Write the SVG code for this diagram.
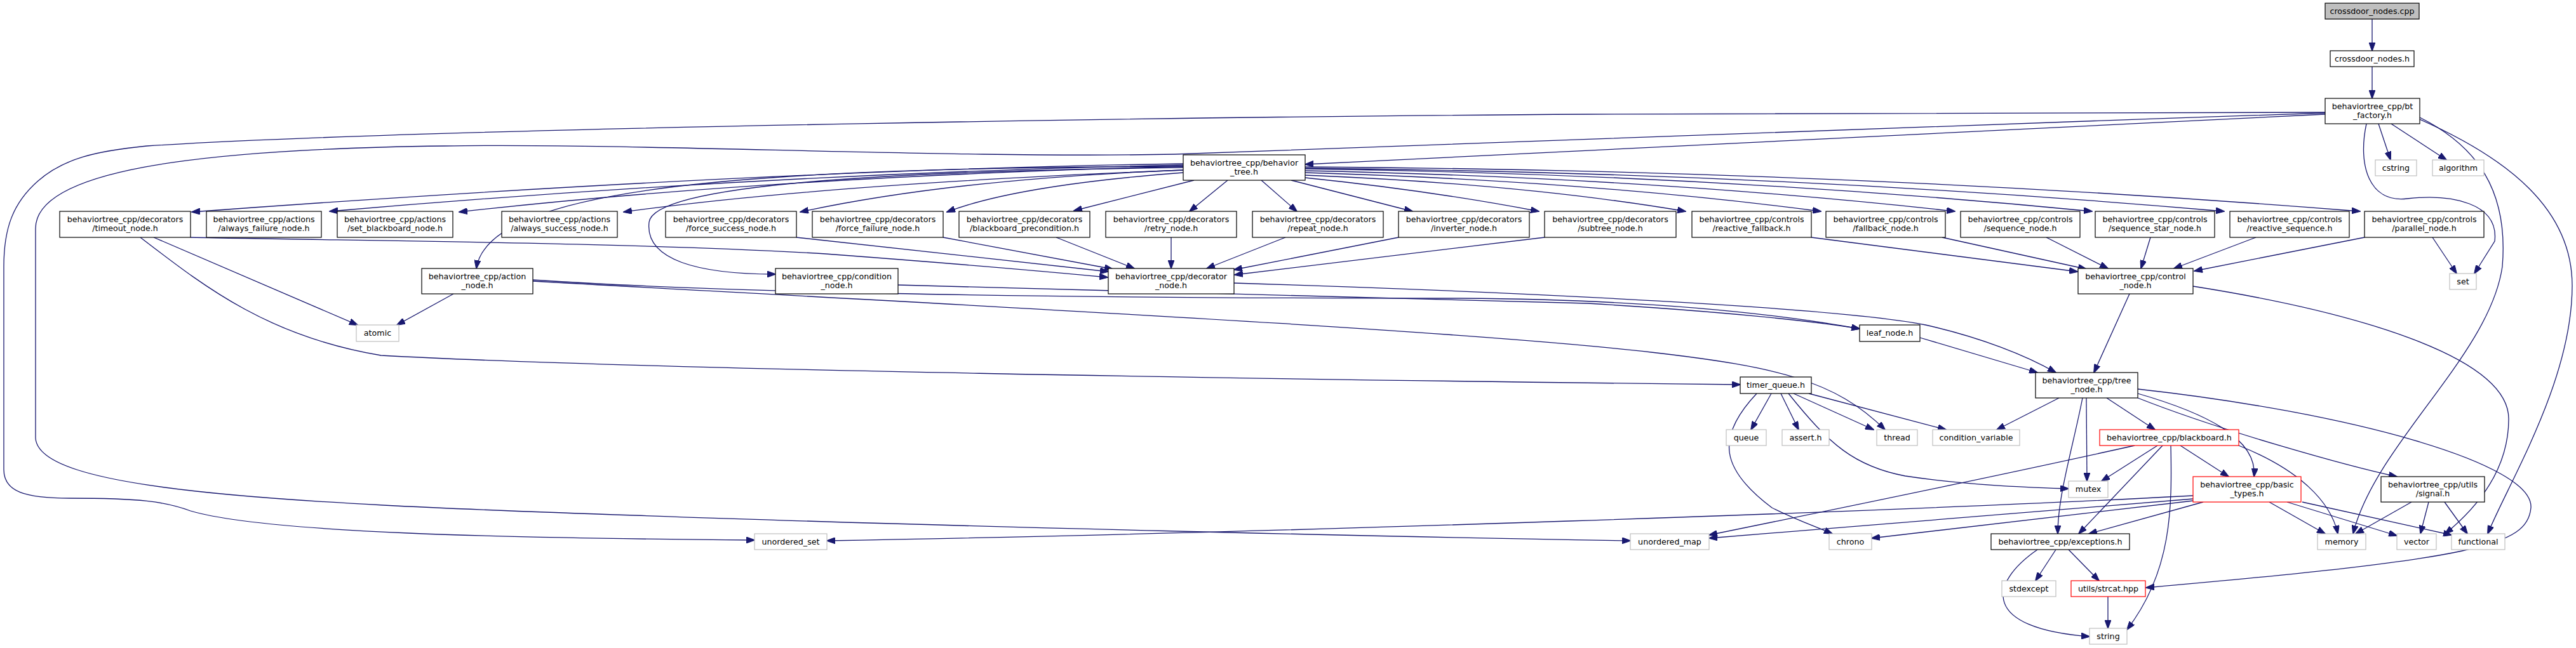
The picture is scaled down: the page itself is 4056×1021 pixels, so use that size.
<svg xmlns="http://www.w3.org/2000/svg" width="4056" height="1021" viewBox="0 0 4056 1021">
<style>
text{font-family:"DejaVu Sans",sans-serif;font-size:12.67px;text-anchor:middle;fill:#000}
.n rect{fill:#fff;stroke:#000;stroke-width:1.2}
.g rect{fill:#fff;stroke:#bfbfbf;stroke-width:1.2}
.r rect{fill:#fff;stroke:#ff0000;stroke-width:1.2}
.root rect{fill:#bfbfbf;stroke:#000;stroke-width:1.2}
.e path{fill:none;stroke:#191970;stroke-width:1.3;marker-end:url(#a)}
</style>
<defs>
<marker id="a" markerWidth="14" markerHeight="10" refX="13" refY="5" orient="auto" markerUnits="userSpaceOnUse"><path d="M0,0 L14,5 L0,10 z" fill="#191970" stroke="#191970" stroke-width="1"/></marker>
</defs>
<rect width="4056" height="1021" fill="#fff"/>
<g id="edges" class="e">
<path d="M3735,30 L3735,80"/>
<path d="M3735,105 L3735,155"/>
<path d="M3661,180 L2055,259"/>
<path d="M3661,178 C3000,200 2300,225 1850,243 C1500,250 1000,225 700,230 C300,235 56,270 56,360 L56,690 C60,770 400,792 1000,812 C1500,830 2200,846 2567,852"/>
<path d="M3661,177 L2500,180 C2000,183 700,200 231,230 C150,238 100,250 60,285 C20,320 6,360 6,420 L6,740 C6,775 40,785 110,785 C220,785 260,790 300,805 C420,840 800,848 1188,851"/>
<path d="M3745,195 L3764,252"/>
<path d="M3765,195 L3852,252"/>
<path d="M3726,195 C3712,260 3730,320 3790,313 C3860,305 3935,320 3928,380 L3896,431"/>
<path d="M3810,185 C3900,230 3950,300 3940,420 C3920,560 3740,700 3705,841"/>
<path d="M3810,188 C3950,250 4050,330 4050,450 C4050,600 3950,760 3917,841"/>
<path d="M3830,374 L3868,431"/>
<path d="M3453,451 C3700,490 3950,560 3950,660 C3950,740 3900,800 3850,841"/>
<path d="M3353,463 L3297,587"/>
<path d="M3023,532 L3208,587"/>
<path d="M1943,446 C2400,460 2900,485 3032,512 C3120,532 3190,560 3237,587"/>
<path d="M839,441 C1200,465 1800,470 2300,470 C2600,472 2800,495 2928,518"/>
<path d="M1414,449 C1900,460 2300,470 2500,478 C2700,490 2850,505 2928,518"/>
<path d="M839,443 C1500,480 2300,520 2600,555 C2800,578 2890,600 2968,677"/>
<path d="M714,463 L625,512"/>
<path d="M242,374 L563,512"/>
<path d="M221,374 C320,450 420,530 600,560 C1000,582 2000,598 2740,606"/>
<path d="M300,374 C600,380 1000,382 1300,400 C1500,415 1650,428 1744,437"/>
<path d="M1254,374 L1745,428"/>
<path d="M1485,374 L1752,424"/>
<path d="M1663,374 L1786,423"/>
<path d="M1844,374 L1844,423"/>
<path d="M2024,374 L1900,423"/>
<path d="M2202,374 L1943,425"/>
<path d="M2432,374 L1944,433"/>
<path d="M2852,374 L3271,428"/>
<path d="M3058,374 L3285,424"/>
<path d="M3222,374 L3319,423"/>
<path d="M3386,374 L3371,423"/>
<path d="M3552,374 L3423,423"/>
<path d="M3723,374 L3455,427"/>
<path d="M3242,627 L3144,677"/>
<path d="M3279,627 C3265,700 3240,780 3240,841"/>
<path d="M3285,627 L3286,758"/>
<path d="M3317,627 L3393,677"/>
<path d="M3366,620 C3470,650 3555,690 3549,751"/>
<path d="M3366,627 C3500,680 3700,735 3774,751"/>
<path d="M3366,613 C3700,650 3990,730 3985,800 C3980,860 3900,880 3379,926"/>
<path d="M2789,620 L2757,677"/>
<path d="M2804,620 L2832,677"/>
<path d="M2824,620 L2950,677"/>
<path d="M2848,620 L3064,677"/>
<path d="M2816,620 C2880,700 2920,735 3000,750 C3100,765 3200,768 3257,770"/>
<path d="M2766,620 C2700,690 2710,740 2790,800 C2830,820 2860,830 2885,841"/>
<path d="M3361,702 C3100,760 2900,800 2691,843"/>
<path d="M3397,702 L3309,758"/>
<path d="M3405,702 L3273,841"/>
<path d="M3418,702 C3420,800 3420,900 3349,992"/>
<path d="M3433,702 L3509,751"/>
<path d="M3525,702 C3620,740 3670,790 3681,841"/>
<path d="M3453,781 C3000,805 2000,840 1302,852"/>
<path d="M3453,786 C3100,815 2850,835 2691,848"/>
<path d="M3453,789 L2947,848"/>
<path d="M3469,791 L3289,841"/>
<path d="M3573,791 L3661,841"/>
<path d="M3601,791 L3774,844"/>
<path d="M3625,791 L3860,843"/>
<path d="M3797,791 L3709,841"/>
<path d="M3824,791 L3811,841"/>
<path d="M3849,791 L3885,841"/>
<path d="M3208,866 C3130,920 3120,990 3290,1003"/>
<path d="M3237,866 L3205,915"/>
<path d="M3257,866 L3305,915"/>
<path d="M3319,940 L3319,990"/>
<path d="M1863,258 Q1200,268 302,334"/>
<path d="M1863,260 Q1200,274 519,333"/>
<path d="M1863,262 Q1200,280 723,334"/>
<path d="M1863,268 Q1300,290 982,334"/>
<path d="M1863,262 C1200,265 770,290 750,423"/>
<path d="M1863,264 C1400,270 1030,290 1022,350 C1015,410 1100,432 1221,432"/>
<path d="M1863,268 Q1500,282 1260,334"/>
<path d="M1863,272 Q1600,292 1491,334"/>
<path d="M1880,284 L1691,332"/>
<path d="M1933,284 L1873,333"/>
<path d="M1986,284 L2042,333"/>
<path d="M2033,284 L2224,333"/>
<path d="M2055,280 Q2250,300 2423,333"/>
<path d="M2055,276 Q2400,290 2654,333"/>
<path d="M2055,272 Q2500,285 2867,333"/>
<path d="M2055,269 Q2600,280 3078,333"/>
<path d="M2055,266 Q2700,275 3294,333"/>
<path d="M2055,265 Q2800,272 3502,333"/>
<path d="M2055,263 Q2900,268 3716,333"/>
</g>
<g id="n_cpp" class="root"><rect x="3661" y="5" width="148" height="25"/><text x="3735" y="22">crossdoor_nodes.cpp</text></g>
<g id="n_h" class="n"><rect x="3669" y="80" width="132" height="25"/><text x="3735" y="97">crossdoor_nodes.h</text></g>
<g id="n_bt_factory" class="n"><rect x="3661" y="155" width="149" height="40"/><text x="3735.5" y="172">behaviortree_cpp/bt</text><text x="3735.5" y="186">_factory.h</text></g>
<g id="n_cstring" class="g"><rect x="3740" y="252" width="65" height="25"/><text x="3772.5" y="269">cstring</text></g>
<g id="n_algorithm" class="g"><rect x="3830" y="252" width="81" height="25"/><text x="3870.5" y="269">algorithm</text></g>
<g id="n_behavior_tree" class="n"><rect x="1863" y="244" width="192" height="40"/><text x="1959" y="261">behaviortree_cpp/behavior</text><text x="1959" y="275">_tree.h</text></g>
<g id="n_timeout" class="n"><rect x="94" y="333" width="206" height="41"/><text x="197" y="350">behaviortree_cpp/decorators</text><text x="197" y="364">/timeout_node.h</text></g>
<g id="n_always_failure" class="n"><rect x="325" y="333" width="181" height="41"/><text x="415.5" y="350">behaviortree_cpp/actions</text><text x="415.5" y="364">/always_failure_node.h</text></g>
<g id="n_set_blackboard" class="n"><rect x="531" y="333" width="182" height="41"/><text x="622" y="350">behaviortree_cpp/actions</text><text x="622" y="364">/set_blackboard_node.h</text></g>
<g id="n_always_success" class="n"><rect x="790" y="333" width="182" height="41"/><text x="881" y="350">behaviortree_cpp/actions</text><text x="881" y="364">/always_success_node.h</text></g>
<g id="n_force_success" class="n"><rect x="1048" y="333" width="206" height="41"/><text x="1151" y="350">behaviortree_cpp/decorators</text><text x="1151" y="364">/force_success_node.h</text></g>
<g id="n_force_failure" class="n"><rect x="1279" y="333" width="206" height="41"/><text x="1382" y="350">behaviortree_cpp/decorators</text><text x="1382" y="364">/force_failure_node.h</text></g>
<g id="n_bb_precondition" class="n"><rect x="1510" y="333" width="206" height="41"/><text x="1613" y="350">behaviortree_cpp/decorators</text><text x="1613" y="364">/blackboard_precondition.h</text></g>
<g id="n_retry" class="n"><rect x="1741" y="333" width="206" height="41"/><text x="1844" y="350">behaviortree_cpp/decorators</text><text x="1844" y="364">/retry_node.h</text></g>
<g id="n_repeat" class="n"><rect x="1972" y="333" width="206" height="41"/><text x="2075" y="350">behaviortree_cpp/decorators</text><text x="2075" y="364">/repeat_node.h</text></g>
<g id="n_inverter" class="n"><rect x="2202" y="333" width="206" height="41"/><text x="2305" y="350">behaviortree_cpp/decorators</text><text x="2305" y="364">/inverter_node.h</text></g>
<g id="n_subtree" class="n"><rect x="2432" y="333" width="207" height="41"/><text x="2535.5" y="350">behaviortree_cpp/decorators</text><text x="2535.5" y="364">/subtree_node.h</text></g>
<g id="n_reactive_fallback" class="n"><rect x="2664" y="333" width="188" height="41"/><text x="2758" y="350">behaviortree_cpp/controls</text><text x="2758" y="364">/reactive_fallback.h</text></g>
<g id="n_fallback" class="n"><rect x="2875" y="333" width="188" height="41"/><text x="2969" y="350">behaviortree_cpp/controls</text><text x="2969" y="364">/fallback_node.h</text></g>
<g id="n_sequence" class="n"><rect x="3087" y="333" width="188" height="41"/><text x="3181" y="350">behaviortree_cpp/controls</text><text x="3181" y="364">/sequence_node.h</text></g>
<g id="n_sequence_star" class="n"><rect x="3299" y="333" width="188" height="41"/><text x="3393" y="350">behaviortree_cpp/controls</text><text x="3393" y="364">/sequence_star_node.h</text></g>
<g id="n_reactive_sequence" class="n"><rect x="3511" y="333" width="188" height="41"/><text x="3605" y="350">behaviortree_cpp/controls</text><text x="3605" y="364">/reactive_sequence.h</text></g>
<g id="n_parallel" class="n"><rect x="3723" y="333" width="188" height="41"/><text x="3817" y="350">behaviortree_cpp/controls</text><text x="3817" y="364">/parallel_node.h</text></g>
<g id="n_action_node" class="n"><rect x="664" y="423" width="175" height="40"/><text x="751.5" y="440">behaviortree_cpp/action</text><text x="751.5" y="454">_node.h</text></g>
<g id="n_condition_node" class="n"><rect x="1221" y="423" width="193" height="40"/><text x="1317.5" y="440">behaviortree_cpp/condition</text><text x="1317.5" y="454">_node.h</text></g>
<g id="n_decorator_node" class="n"><rect x="1745" y="423" width="198" height="40"/><text x="1844" y="440">behaviortree_cpp/decorator</text><text x="1844" y="454">_node.h</text></g>
<g id="n_control_node" class="n"><rect x="3272" y="423" width="181" height="40"/><text x="3362.5" y="440">behaviortree_cpp/control</text><text x="3362.5" y="454">_node.h</text></g>
<g id="n_set" class="g"><rect x="3857" y="431" width="42" height="25"/><text x="3878" y="448">set</text></g>
<g id="n_atomic" class="g"><rect x="561" y="512" width="67" height="26"/><text x="594.5" y="529">atomic</text></g>
<g id="n_leaf_node" class="n"><rect x="2928" y="512" width="95" height="26"/><text x="2975.5" y="529">leaf_node.h</text></g>
<g id="n_tree_node" class="n"><rect x="3205" y="587" width="161" height="40"/><text x="3285.5" y="604">behaviortree_cpp/tree</text><text x="3285.5" y="618">_node.h</text></g>
<g id="n_timer_queue" class="n"><rect x="2740" y="594" width="112" height="26"/><text x="2796" y="611">timer_queue.h</text></g>
<g id="n_queue" class="g"><rect x="2718" y="677" width="63" height="25"/><text x="2749.5" y="694">queue</text></g>
<g id="n_assert" class="g"><rect x="2806" y="677" width="74" height="25"/><text x="2843" y="694">assert.h</text></g>
<g id="n_thread" class="g"><rect x="2955" y="677" width="64" height="25"/><text x="2987" y="694">thread</text></g>
<g id="n_condition_variable" class="g"><rect x="3043" y="677" width="137" height="25"/><text x="3111.5" y="694">condition_variable</text></g>
<g id="n_blackboard" class="r"><rect x="3306" y="677" width="219" height="25"/><text x="3415.5" y="694">behaviortree_cpp/blackboard.h</text></g>
<g id="n_mutex" class="g"><rect x="3257" y="758" width="62" height="26"/><text x="3288" y="775">mutex</text></g>
<g id="n_basic_types" class="r"><rect x="3453" y="751" width="170" height="40"/><text x="3538" y="768">behaviortree_cpp/basic</text><text x="3538" y="782">_types.h</text></g>
<g id="n_signal" class="n"><rect x="3749" y="751" width="163" height="40"/><text x="3830.5" y="768">behaviortree_cpp/utils</text><text x="3830.5" y="782">/signal.h</text></g>
<g id="n_unordered_set" class="g"><rect x="1188" y="841" width="114" height="25"/><text x="1245" y="858">unordered_set</text></g>
<g id="n_unordered_map" class="g"><rect x="2567" y="841" width="124" height="25"/><text x="2629" y="858">unordered_map</text></g>
<g id="n_chrono" class="g"><rect x="2880" y="841" width="67" height="25"/><text x="2913.5" y="858">chrono</text></g>
<g id="n_exceptions" class="n"><rect x="3135" y="841" width="218" height="25"/><text x="3244" y="858">behaviortree_cpp/exceptions.h</text></g>
<g id="n_memory" class="g"><rect x="3649" y="841" width="76" height="25"/><text x="3687" y="858">memory</text></g>
<g id="n_vector" class="g"><rect x="3774" y="841" width="62" height="25"/><text x="3805" y="858">vector</text></g>
<g id="n_functional" class="g"><rect x="3860" y="841" width="84" height="25"/><text x="3902" y="858">functional</text></g>
<g id="n_stdexcept" class="g"><rect x="3152" y="915" width="85" height="25"/><text x="3194.5" y="932">stdexcept</text></g>
<g id="n_strcat" class="r"><rect x="3261" y="915" width="117" height="25"/><text x="3319.5" y="932">utils/strcat.hpp</text></g>
<g id="n_string" class="g"><rect x="3290" y="990" width="59" height="25"/><text x="3319.5" y="1007">string</text></g>
</svg>
